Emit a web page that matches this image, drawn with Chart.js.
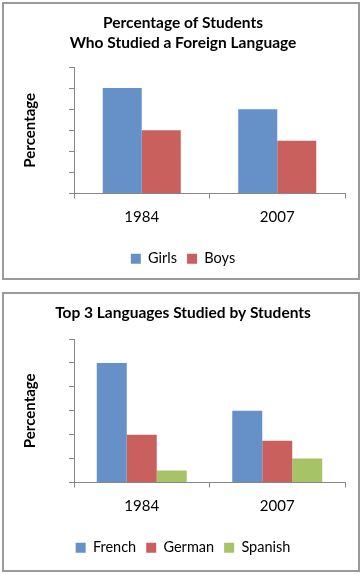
<!DOCTYPE html>
<html>
<head>
<meta charset="utf-8">
<script src="https://cdn.jsdelivr.net/npm/chart.js"></script>
<style>
  html, body { margin: 0; padding: 0; background: #fff; }
  body { width: 362px; height: 574px; position: relative; overflow: hidden; }
  .frame { position: absolute; left: 2px; width: 358px; border: 2px solid #9a9a9a; box-sizing: border-box; }
  .wrap { position: absolute; left: 0; width: 362px; }
</style>
</head>
<body>
<div class="frame" style="top:2px;height:278px;"></div>
<div class="frame" style="top:292px;height:280px;"></div>
<div class="wrap" style="top:0;height:285px;"><canvas id="chartStudents"></canvas></div>
<div class="wrap" style="top:290px;height:284px;"><canvas id="chartLanguages"></canvas></div>
<script>
// Data (no values on the axis, units of the tick marks)
const years = ['1984', '2007'];
const girls = [5, 4];
const boys = [3, 2.5];
const french = [5, 3];
const german = [2, 1.75];
const spanish = [0.5, 1];
const yMax = 6;

const BLUE = '#6690c8';
const RED = '#c9605e';
const GREEN = '#a6c467';
const AXIS = '#868686';
const FONT = 'Lato, "Open Sans", sans-serif';

Chart.defaults.font.family = FONT;
Chart.defaults.color = '#000';
Chart.defaults.animation = false;

function makeChart(id, titleLines, datasets, catPct, titleBottom) {
  const ctx = document.getElementById(id).getContext('2d');
  return new Chart(ctx, {
    type: 'bar',
    data: { labels: years, datasets: datasets },
    options: {
      responsive: true,
      maintainAspectRatio: false,
      layout: { padding: { left: 21, right: 17, top: 0, bottom: 9 } },
      datasets: { bar: { categoryPercentage: catPct, barPercentage: 1 } },
      plugins: {
        title: {
          display: true,
          text: titleLines,
          font: { size: 15.5, weight: 'bold', lineHeight: '20px' },
          padding: { top: 13, bottom: titleBottom }
        },
        legend: {
          position: 'bottom',
          labels: { boxWidth: 10, boxHeight: 10, padding: 10, font: { size: 14.5 } }
        },
        tooltip: { enabled: false }
      },
      scales: {
        x: {
          grid: { drawOnChartArea: false, drawTicks: true, tickLength: 5, color: AXIS, offset: true },
          border: { color: AXIS },
          ticks: { font: { size: 15 }, padding: 10 },
          afterFit: s => { s.height = 48; }
        },
        y: {
          min: 0,
          max: yMax,
          ticks: { display: false, stepSize: 1 },
          grid: { drawOnChartArea: false, drawTicks: true, tickLength: 5, color: AXIS },
          border: { color: AXIS },
          title: { display: true, text: 'Percentage', font: { size: 15, weight: 'bold' }, padding: { top: 0, bottom: 0 } },
          afterFit: s => { s.width = 53; }
        }
      }
    }
  });
}

makeChart('chartStudents',
  ['Percentage of Students', 'Who Studied a Foreign Language'],
  [
    { label: 'Girls', data: girls, backgroundColor: BLUE },
    { label: 'Boys', data: boys, backgroundColor: RED }
  ], 0.576, 14);

makeChart('chartLanguages',
  'Top 3 Languages Studied by Students',
  [
    { label: 'French', data: french, backgroundColor: BLUE },
    { label: 'German', data: german, backgroundColor: RED },
    { label: 'Spanish', data: spanish, backgroundColor: GREEN }
  ], 0.664, 16);
</script>
</body>
</html>
